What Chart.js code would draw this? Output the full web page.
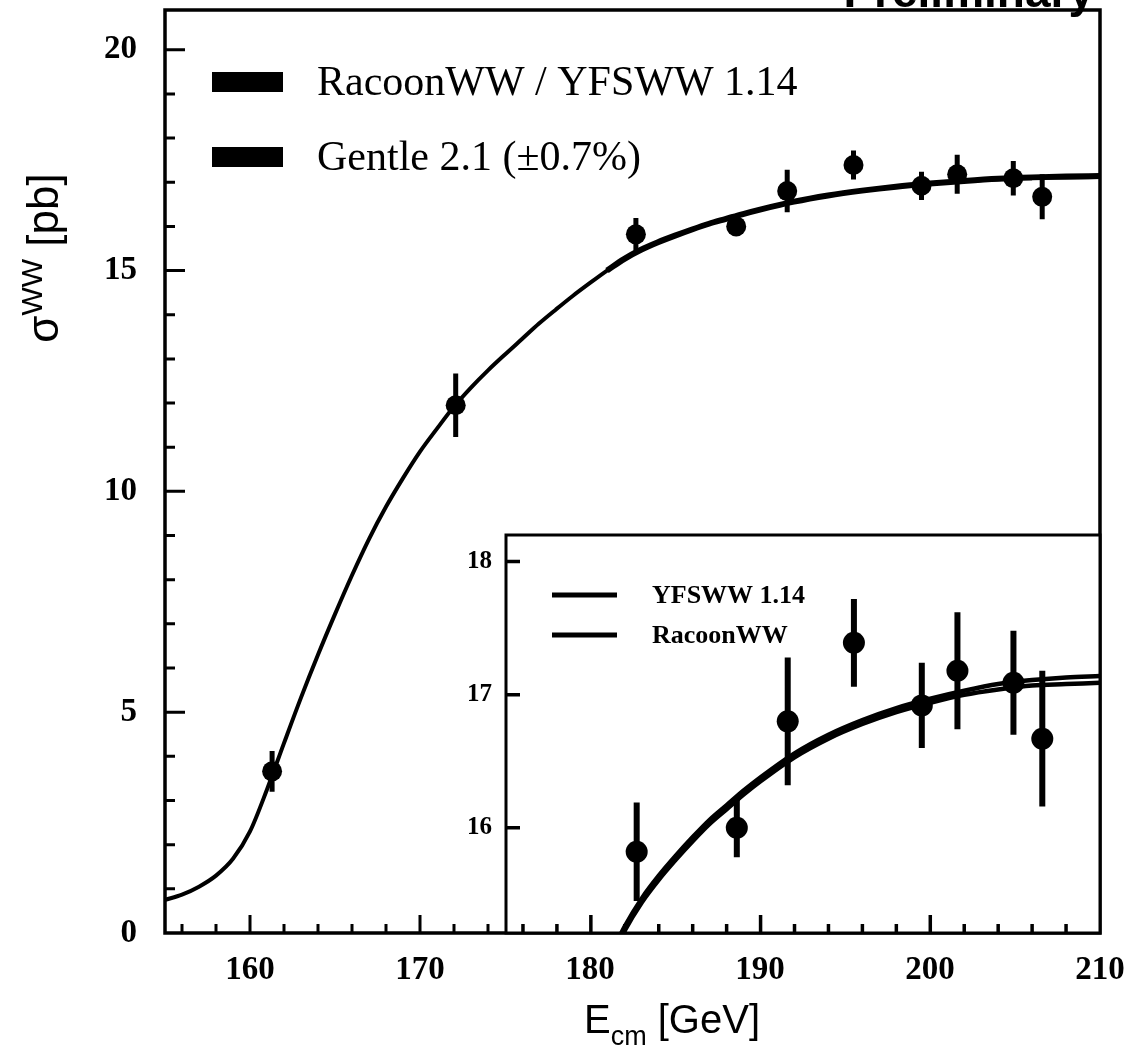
<!DOCTYPE html>
<html>
<head>
<meta charset="utf-8">
<script src="https://cdn.jsdelivr.net/npm/chart.js@4.4.1/dist/chart.umd.min.js"></script>
<style>
  html, body { margin: 0; padding: 0; background: #fff; }
  #wrap { position: relative; width: 1130px; height: 1049px; }
  #wrap canvas { position: absolute; left: 0; top: 0; }
</style>
</head>
<body>
<div id="wrap">
  <canvas id="main" width="1130" height="1049"></canvas>
  <canvas id="inset" width="1130" height="1049"></canvas>
</div>
<script>
// LEP measurements of sigma(WW)
const lepEnergy = [161.3, 172.1, 182.7, 188.6, 191.6, 195.5, 199.5, 201.6, 204.9, 206.6];
const lepSigma = [3.66, 11.95, 15.82, 16.0, 16.8, 17.39, 16.92, 17.18, 17.09, 16.67];
const lepError = [0.46, 0.72, 0.37, 0.22, 0.48, 0.33, 0.32, 0.44, 0.39, 0.51];

// Gentle 2.1 curve
const gentleEnergy = [155, 156, 157, 158, 159, 160, 161, 162, 163, 164, 165, 166, 167, 168, 169, 170,
  171, 172, 173, 174, 175, 176, 177, 178, 179, 180, 181, 182, 183, 184, 185, 186, 187, 188, 189, 190,
  192, 194, 196, 198, 200, 202, 204, 206, 208, 210];
const gentleSigma = [0.75, 0.87, 1.05, 1.3, 1.68, 2.3, 3.25, 4.3, 5.33, 6.3, 7.22, 8.1, 8.92, 9.65, 10.3, 10.9,
  11.42, 11.92, 12.35, 12.74, 13.1, 13.45, 13.8, 14.12, 14.43, 14.72, 15.0, 15.26, 15.47, 15.64, 15.79, 15.93, 16.06, 16.17, 16.28, 16.38,
  16.56, 16.7, 16.81, 16.9, 16.97, 17.03, 17.07, 17.1, 17.11, 17.12];

// YFSWW 1.14 / RacoonWW curves (inset)
const mcEnergy = [181, 182, 183, 184, 185, 186, 187, 188, 189, 190, 192, 194, 196, 198, 200, 202, 204, 206, 208, 210];
const yfswwSigma = [15.0, 15.26, 15.47, 15.64, 15.79, 15.93, 16.06, 16.17, 16.28, 16.38, 16.56, 16.7, 16.81, 16.9, 16.97, 17.03, 17.08, 17.11, 17.13, 17.14];
const racoonSigma = [14.97, 15.23, 15.44, 15.61, 15.76, 15.9, 16.03, 16.14, 16.25, 16.35, 16.53, 16.67, 16.78, 16.87, 16.94, 17.0, 17.04, 17.07, 17.08, 17.09];

const xTickLabels = [160, 170, 180, 190, 200, 210];
const yTickLabels = [0, 5, 10, 15, 20];
const insetYTickLabels = [16, 17, 18];

const pts = (xs, ys) => xs.map((x, i) => ({ x: x, y: ys[i] }));

const tickFont = { family: "'Liberation Serif', serif", weight: 'bold', size: 33 };

// no label overflow padding, so the plot area can be pinned exactly
const noPad = (s) => { s.paddingTop = 0; s.paddingBottom = 0; s.paddingLeft = 0; s.paddingRight = 0; };

// inward ticks + frame, placed through the chart scales
const tickFrame = {
  id: 'tickFrame',
  afterDatasetsDraw(chart, args, o) {
    const { ctx, chartArea: a, scales: { x, y } } = chart;
    const isMajor = (v, m) => Math.abs(v / m - Math.round(v / m)) < 1e-6;
    ctx.save();
    ctx.strokeStyle = '#000';
    ctx.lineWidth = o.tickWidth;
    ctx.beginPath();
    for (let v = o.x[0]; v <= o.x[1] + 1e-9; v += o.x[2]) {
      const px = x.getPixelForValue(v);
      const len = isMajor(v, o.x[3]) ? o.xMajorLen : o.xMinorLen;
      ctx.moveTo(px, a.bottom);
      ctx.lineTo(px, a.bottom - len);
    }
    for (let v = o.y[0]; v <= o.y[1] + 1e-9; v += o.y[2]) {
      const py = y.getPixelForValue(v);
      const len = isMajor(v, o.y[3]) ? o.yMajorLen : o.yMinorLen;
      ctx.moveTo(a.left, py);
      ctx.lineTo(a.left + len, py);
    }
    ctx.stroke();
    ctx.lineWidth = o.frameWidth;
    ctx.strokeRect(a.left, a.top, a.right - a.left, a.bottom - a.top);
    ctx.restore();
  }
};

const errorBars = {
  id: 'errorBars',
  afterDatasetsDraw(chart, args, o) {
    const { ctx, chartArea: a, scales: { x, y } } = chart;
    ctx.save();
    ctx.beginPath();
    ctx.rect(a.left, a.top, a.right - a.left, a.bottom - a.top);
    ctx.clip();
    ctx.strokeStyle = '#000';
    ctx.lineWidth = o.width;
    ctx.beginPath();
    lepEnergy.forEach((e, i) => {
      const px = x.getPixelForValue(e);
      ctx.moveTo(px, y.getPixelForValue(lepSigma[i] - lepError[i]));
      ctx.lineTo(px, y.getPixelForValue(lepSigma[i] + lepError[i]));
    });
    ctx.stroke();
    ctx.restore();
  }
};

const mainDecor = {
  id: 'mainDecor',
  afterDraw(chart) {
    const { ctx } = chart;
    ctx.save();
    ctx.fillStyle = '#000';

    // legend: thick bars + labels
    const ds = chart.data.datasets;
    const rows = [[ds[2].label, 82, 95], [ds[1].label, 157, 170]];
    ctx.font = "42px 'Liberation Serif', serif";
    ctx.textBaseline = 'alphabetic';
    rows.forEach(([txt, mid, base]) => {
      ctx.fillRect(212, mid - 10, 71, 20);
      ctx.fillText(txt, 317, base);
    });

    // clipped "Preliminary" at the top edge
    ctx.font = "bold 46px 'Liberation Sans', Arial, sans-serif";
    ctx.textAlign = 'right';
    ctx.fillText('Preliminary', 1094, 7);

    // x title: E_cm [GeV]
    ctx.textAlign = 'left';
    const big = "40px 'Liberation Sans', Arial, sans-serif";
    const small = "27px 'Liberation Sans', Arial, sans-serif";
    ctx.font = big; const wE = ctx.measureText('E').width; const wG = ctx.measureText(' [GeV]').width;
    ctx.font = small; const wC = ctx.measureText('cm').width;
    let x0 = 672 - (wE + wC + wG) / 2;
    ctx.font = big; ctx.fillText('E', x0, 1033);
    ctx.font = small; ctx.fillText('cm', x0 + wE, 1045);
    ctx.font = big; ctx.fillText(' [GeV]', x0 + wE + wC, 1033);

    // y title: sigma^WW [pb]
    ctx.translate(58, 258);
    ctx.rotate(-Math.PI / 2);
    const yb = "44px 'Liberation Sans', Arial, sans-serif";
    const ys = "30px 'Liberation Sans', Arial, sans-serif";
    ctx.font = yb; const wS = ctx.measureText('σ').width; const wP = ctx.measureText(' [pb]').width;
    ctx.font = ys; const wW = ctx.measureText('WW').width;
    x0 = -(wS + wW + wP) / 2;
    ctx.font = yb; ctx.fillText('σ', x0, 0);
    ctx.font = ys; ctx.fillText('WW', x0 + wS, -16);
    ctx.font = yb; ctx.fillText(' [pb]', x0 + wS + wW, 0);
    ctx.restore();
  }
};

const insetDecor = {
  id: 'insetDecor',
  beforeDraw(chart) {
    const { ctx, chartArea: a } = chart;
    ctx.save();
    ctx.fillStyle = '#fff';
    ctx.fillRect(a.left, a.top, a.right - a.left, a.bottom - a.top);
    ctx.restore();
  },
  afterDraw(chart) {
    const { ctx, chartArea: a } = chart;
    const ds = chart.data.datasets;
    ctx.save();
    ctx.strokeStyle = '#000';
    ctx.fillStyle = '#000';
    ctx.lineWidth = 5;
    ctx.font = "bold 26px 'Liberation Serif', serif";
    ctx.textBaseline = 'middle';
    [[ds[1].label, 60], [ds[2].label, 100]].forEach(([txt, dy]) => {
      ctx.beginPath();
      ctx.moveTo(a.left + 46, a.top + dy);
      ctx.lineTo(a.left + 111, a.top + dy);
      ctx.stroke();
      ctx.fillText(txt, a.left + 146, a.top + dy + 1);
    });
    ctx.restore();
  }
};

function pinArea(chart, t) {
  for (let i = 0; i < 4; i++) {
    const a = chart.chartArea;
    const p = chart.options.layout.padding;
    p.left += t.left - a.left;
    p.top += t.top - a.top;
    p.right += a.right - t.right;
    p.bottom += a.bottom - t.bottom;
    chart.update('none');
  }
}

const mainChart = new Chart(document.getElementById('main'), {
  type: 'line',
  plugins: [tickFrame, errorBars, mainDecor],
  data: {
    datasets: [
      {
        label: 'LEP', data: pts(lepEnergy, lepSigma), showLine: false,
        pointRadius: 10, pointBackgroundColor: '#000', pointBorderWidth: 0, order: 0,
      },
      {
        label: 'Gentle 2.1 (±0.7%)', data: pts(gentleEnergy, gentleSigma),
        borderColor: '#000', borderWidth: 4, pointRadius: 0, cubicInterpolationMode: 'monotone', order: 2,
      },
      {
        label: 'RacoonWW / YFSWW 1.14', data: pts(mcEnergy, yfswwSigma),
        borderColor: '#000', borderWidth: 6, pointRadius: 0, cubicInterpolationMode: 'monotone', order: 1,
      },
    ],
  },
  options: {
    responsive: false,
    animation: false,
    devicePixelRatio: 1,
    layout: { padding: { left: 0, top: 0, right: 0, bottom: 0 } },
    events: [],
    plugins: {
      legend: { display: false },
      tooltip: { enabled: false },
      tickFrame: {
        x: [156, 208, 2, 10], y: [1, 20, 1, 5],
        xMajorLen: 18, xMinorLen: 9, yMajorLen: 20, yMinorLen: 10,
        tickWidth: 3, frameWidth: 3.5,
      },
      errorBars: { width: 5 },
    },
    scales: {
      x: {
        type: 'linear', min: 155, max: 210,
        grid: { display: false }, border: { display: false },
        afterBuildTicks: (s) => { s.ticks = xTickLabels.map((v) => ({ value: v })); },
        afterFit: noPad,
        ticks: { color: '#000', font: tickFont, padding: 10, maxRotation: 0, autoSkip: false },
      },
      y: {
        type: 'linear', min: 0, max: 20.9,
        grid: { display: false }, border: { display: false },
        afterBuildTicks: (s) => { s.ticks = yTickLabels.map((v) => ({ value: v })); },
        afterFit: noPad,
        ticks: { color: '#000', font: tickFont, padding: 20, autoSkip: false },
      },
    },
  },
});
pinArea(mainChart, { left: 165, top: 12, right: 1100, bottom: 933 });

const insetChart = new Chart(document.getElementById('inset'), {
  type: 'line',
  plugins: [insetDecor, tickFrame, errorBars],
  data: {
    datasets: [
      {
        label: 'LEP', data: pts(lepEnergy, lepSigma), showLine: false,
        pointRadius: 11, pointBackgroundColor: '#000', pointBorderWidth: 0, order: 0,
      },
      {
        label: 'YFSWW 1.14', data: pts(mcEnergy, yfswwSigma),
        borderColor: '#000', borderWidth: 4.5, pointRadius: 0, cubicInterpolationMode: 'monotone', order: 1,
      },
      {
        label: 'RacoonWW', data: pts(mcEnergy, racoonSigma),
        borderColor: '#000', borderWidth: 4.5, pointRadius: 0, cubicInterpolationMode: 'monotone', order: 2,
      },
    ],
  },
  options: {
    responsive: false,
    animation: false,
    devicePixelRatio: 1,
    layout: { padding: { left: 0, top: 0, right: 0, bottom: 0 } },
    events: [],
    plugins: {
      legend: { display: false },
      tooltip: { enabled: false },
      tickFrame: {
        x: [176, 208, 2, 10], y: [16, 18, 1, 1],
        xMajorLen: 18, xMinorLen: 9, yMajorLen: 14, yMinorLen: 14,
        tickWidth: 3.5, frameWidth: 3,
      },
      errorBars: { width: 6 },
    },
    scales: {
      x: {
        type: 'linear', min: 175, max: 210,
        grid: { display: false }, border: { display: false },
        afterFit: noPad,
        ticks: { display: false },
      },
      y: {
        type: 'linear', min: 15.21, max: 18.2,
        grid: { display: false }, border: { display: false },
        afterBuildTicks: (s) => { s.ticks = insetYTickLabels.map((v) => ({ value: v })); },
        afterFit: noPad,
        ticks: { color: '#000', font: { family: "'Liberation Serif', serif", weight: 'bold', size: 25 }, padding: 6, autoSkip: false },
      },
    },
  },
});
pinArea(insetChart, { left: 506, top: 535, right: 1100, bottom: 933 });
</script>
</body>
</html>
